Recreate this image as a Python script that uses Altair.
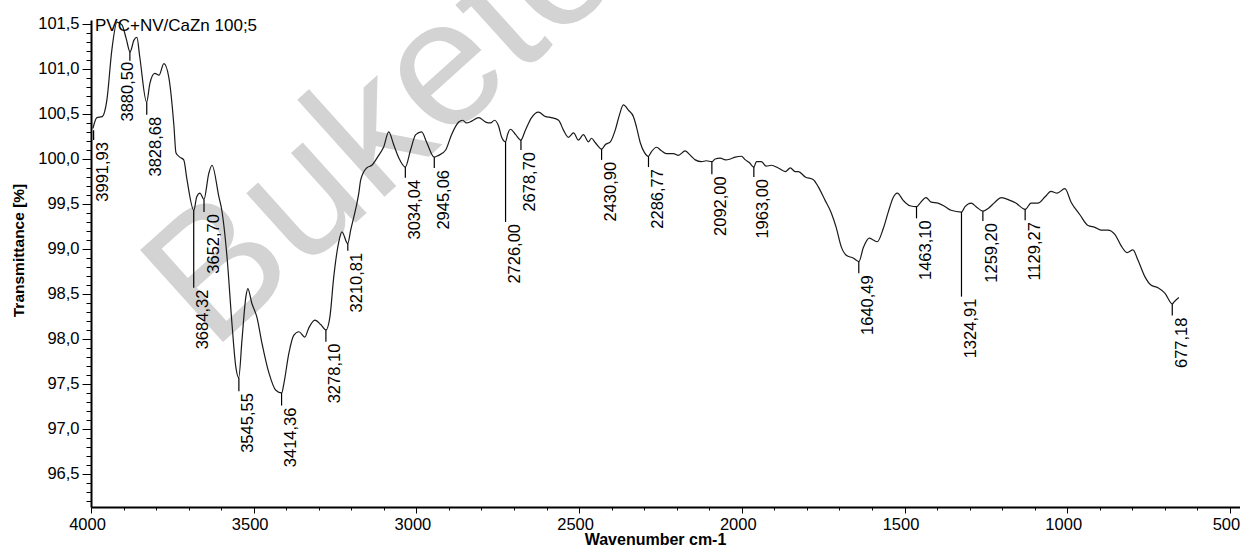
import altair as alt
import pandas as pd

# ---------------- data ----------------
wavenumber = [3994, 3982, 3966, 3951, 3936, 3920, 3905, 3892, 3880, 3868, 3859, 3850, 3829, 3819, 3804,
              3791, 3776, 3761, 3745, 3739, 3727, 3715, 3705, 3684, 3675, 3665, 3653, 3638, 3628, 3607,
              3598, 3582, 3567, 3555, 3546, 3536, 3524, 3518, 3506, 3490, 3475, 3453, 3432, 3414, 3407,
              3392, 3377, 3361, 3343, 3331, 3312, 3294, 3278, 3266, 3254, 3239, 3229, 3211, 3202, 3177,
              3171, 3153, 3137, 3116, 3101, 3085, 3070, 3054, 3034, 3018, 3002, 2984, 2968, 2945, 2932,
              2910, 2892, 2870, 2858, 2846, 2830, 2809, 2787, 2772, 2760, 2747, 2738, 2726, 2720, 2711,
              2695, 2679, 2665, 2646, 2625, 2603, 2585, 2563, 2548, 2533, 2517, 2502, 2487, 2471, 2462,
              2450, 2431, 2419, 2404, 2389, 2376, 2364, 2348, 2333, 2324, 2312, 2299, 2287, 2278, 2262,
              2247, 2232, 2210, 2195, 2174, 2158, 2143, 2124, 2109, 2092, 2082, 2066, 2050, 2035, 2020,
              2001, 1989, 1977, 1963, 1955, 1940, 1925, 1909, 1888, 1866, 1851, 1836, 1826, 1805, 1780,
              1765, 1744, 1725, 1710, 1694, 1679, 1658, 1640, 1627, 1608, 1596, 1584, 1565, 1550, 1535,
              1522, 1504, 1483, 1463, 1452, 1434, 1418, 1397, 1375, 1357, 1325, 1314, 1295, 1280, 1259,
              1243, 1222, 1203, 1176, 1158, 1129, 1111, 1090, 1068, 1050, 1031, 1007, 988, 961, 936,
              915, 896, 875, 853, 835, 816, 798, 783, 761, 743, 721, 700, 677, 672, 657]

transmittance = [100.34, 100.46, 100.47, 100.66, 101.21, 101.52, 101.49, 101.34, 101.19, 101.32, 101.35, 101.13, 100.63, 100.84, 100.95,
                 100.93, 101.06, 100.91, 100.36, 100.07, 100.02, 99.99, 99.77, 99.43, 99.58, 99.62, 99.55, 99.84, 99.93, 99.58,
                 99.43, 98.91, 98.18, 97.69, 97.57, 97.99, 98.47, 98.56, 98.40, 98.24, 97.96, 97.62, 97.43, 97.40, 97.51,
                 97.84, 98.04, 98.08, 98.02, 98.12, 98.21, 98.16, 98.10, 98.24, 98.69, 99.07, 99.19, 99.06, 99.21, 99.62,
                 99.77, 99.90, 99.93, 100.04, 100.13, 100.30, 100.16, 100.01, 99.91, 100.10, 100.27, 100.30, 100.18, 100.02, 100.04,
                 100.10, 100.27, 100.41, 100.43, 100.40, 100.42, 100.46, 100.41, 100.40, 100.43, 100.36, 100.24, 100.19, 100.27, 100.33,
                 100.27, 100.21, 100.32, 100.46, 100.52, 100.47, 100.46, 100.43, 100.32, 100.24, 100.29, 100.21, 100.27, 100.19, 100.23,
                 100.18, 100.11, 100.16, 100.19, 100.32, 100.49, 100.60, 100.54, 100.47, 100.36, 100.18, 100.07, 100.03, 100.08, 100.13,
                 100.09, 100.06, 100.06, 100.04, 100.09, 100.04, 99.99, 99.97, 99.98, 99.97, 100.00, 100.01, 99.99, 100.00, 100.02,
                 100.03, 99.99, 99.96, 99.91, 99.97, 99.97, 99.92, 99.93, 99.90, 99.86, 99.90, 99.86, 99.86, 99.80, 99.77,
                 99.69, 99.54, 99.40, 99.24, 99.02, 98.93, 98.90, 98.86, 99.01, 99.12, 99.10, 99.08, 99.23, 99.41, 99.57,
                 99.62, 99.54, 99.48, 99.47, 99.51, 99.57, 99.52, 99.51, 99.47, 99.43, 99.41, 99.47, 99.51, 99.47, 99.42,
                 99.45, 99.52, 99.57, 99.54, 99.51, 99.44, 99.51, 99.51, 99.58, 99.64, 99.62, 99.67, 99.52, 99.38, 99.26,
                 99.24, 99.21, 99.21, 99.16, 99.04, 98.96, 98.99, 98.88, 98.69, 98.60, 98.57, 98.51, 98.39, 98.41, 98.46]

peak_wn = [3991.93, 3880.50, 3828.68, 3684.32, 3652.70, 3545.55, 3414.36, 3278.10, 3210.81, 3034.04, 2945.06, 2726.00,
           2678.70, 2430.90, 2286.77, 2092.00, 1963.00, 1640.49, 1463.10, 1324.91, 1259.20, 1129.27, 677.18]
peak_T = [100.32, 101.19, 100.63, 99.43, 99.55, 97.57, 97.40, 98.10, 99.06, 99.91, 100.02, 100.19,
          100.21, 100.11, 100.03, 99.97, 99.91, 98.86, 99.47, 99.41, 99.42, 99.44, 98.39]
tick_end_T = [100.21, 101.09, 100.49, 98.57, 99.41, 97.42, 97.26, 97.97, 98.98, 99.79, 99.90, 99.30,
              100.10, 99.99, 99.91, 99.83, 99.80, 98.73, 99.34, 98.47, 99.31, 99.32, 98.26]

title_text = "PVC+NV/CaZn 100;5"
watermark_text = "Buketov"
x_title = "Wavenumber cm-1"
y_title = "Transmittance [%]"

x_major = list(range(500, 4001, 500))
x_minor = [v for v in range(500, 4001, 100) if v % 500]
y_major = [round(96.5 + 0.5 * i, 1) for i in range(11)]
y_minor = [round(96.2 + 0.1 * i, 1) for i in range(54) if (i + 2) % 5]

# ---------------- chart ----------------
FONT = "Liberation Sans"
W, H = 1149, 487

spec = pd.DataFrame({"wn": wavenumber, "T": transmittance})
peaks = pd.DataFrame({
    "wn": peak_wn, "T": peak_T, "Tend": tick_end_T,
    "label": [f"{v:.2f}".replace(".", ",") for v in peak_wn],
})

xs = alt.Scale(domain=[469, 4000], reverse=True, nice=False, zero=False)
ys = alt.Scale(domain=[96.133, 101.544], nice=False, zero=False)

x_axis = alt.Axis(
    values=x_major, format="d", orient="bottom",
    tickSize=6, tickColor="black", tickWidth=1,
    domainColor="black", domainWidth=2,
    labelFont=FONT, labelFontSize=16.5, labelColor="black", labelPadding=3, labelOffset=-4,
    labelFlush=False, labelOverlap=False, grid=False,
    title=x_title, titleFont=FONT, titleFontSize=16, titleFontWeight="bold", titleColor="black",
    titleX=564, titleY=37, titleAlign="center", titleBaseline="alphabetic", titleAngle=0,
)
y_axis = alt.Axis(
    values=y_major, labelExpr="replace(format(datum.value, '.1f'), '.', ',')", orient="left",
    tickSize=9, tickColor="black", tickWidth=1,
    domainColor="black", domainWidth=2,
    labelFont=FONT, labelFontSize=16.5, labelColor="black", labelPadding=3,
    labelFlush=False, labelOverlap=False, grid=False,
    title=y_title, titleFont=FONT, titleFontSize=15.5, titleFontWeight="bold", titleColor="black",
    titleX=-73, titleY=230, titleAngle=270, titleAlign="center", titleBaseline="middle",
)
x_minor_axis = alt.Axis(values=x_minor, orient="bottom", labels=False, domain=False, grid=False,
                        tickSize=3, tickColor="black", tickWidth=1, title=None)
y_minor_axis = alt.Axis(values=y_minor, orient="left", labels=False, domain=False, grid=False,
                        tickSize=5, tickColor="black", tickWidth=1, title=None)

watermark = alt.Chart(pd.DataFrame({"t": [watermark_text]})).mark_text(
    align="left", baseline="alphabetic", angle=318, font=FONT, fontSize=180,
    fontWeight="normal", color="#d3d3d3",
).encode(x=alt.value(121), y=alt.value(332), text="t:N")

line = alt.Chart(spec).mark_line(color="#1a1a1a", strokeWidth=1.2, interpolate="monotone").encode(
    x=alt.X("wn:Q", scale=xs, axis=x_axis),
    y=alt.Y("T:Q", scale=ys, axis=y_axis),
    order=alt.Order("wn:Q", sort="descending"),
)

minor = alt.Chart(spec).mark_point(opacity=0, size=1).encode(
    x=alt.X("wn:Q", scale=xs, axis=x_minor_axis),
    y=alt.Y("T:Q", scale=ys, axis=y_minor_axis),
)

ticks = alt.Chart(peaks).mark_rule(color="black", strokeWidth=1.2).encode(
    x=alt.X("wn:Q", scale=xs, axis=None),
    y=alt.Y("T:Q", scale=ys, axis=None),
    y2="Tend:Q",
)

label_base = alt.Chart(peaks).encode(
    x=alt.X("wn:Q", scale=xs, axis=None),
    y=alt.Y("Tend:Q", scale=ys, axis=None),
    text="label:N",
)
labels_main = label_base.transform_filter("datum.wn != 3880.5").mark_text(
    angle=270, align="right", baseline="middle", dx=-2, dy=9.5,
    font=FONT, fontSize=16.5, color="black",
)
labels_alt = label_base.transform_filter("datum.wn == 3880.5").mark_text(
    angle=270, align="right", baseline="middle", dx=-1, dy=-2,
    font=FONT, fontSize=16.5, color="black",
)

title_mark = alt.Chart(pd.DataFrame({"t": [title_text]})).mark_text(
    align="left", baseline="alphabetic", font=FONT, fontSize=17, color="black",
).encode(x=alt.value(4), y=alt.value(11), text="t:N")

chart = alt.layer(watermark, minor, line, ticks, labels_main, labels_alt, title_mark).resolve_axis(
    x="independent", y="independent"
).properties(
    width=W, height=H,
    padding={"left": 91, "top": 20, "right": 0, "bottom": 39},
    autosize="none",
).configure(background="white").configure_view(strokeWidth=0)

chart.save("out.html", embed_options={"renderer": "svg", "actions": False})
